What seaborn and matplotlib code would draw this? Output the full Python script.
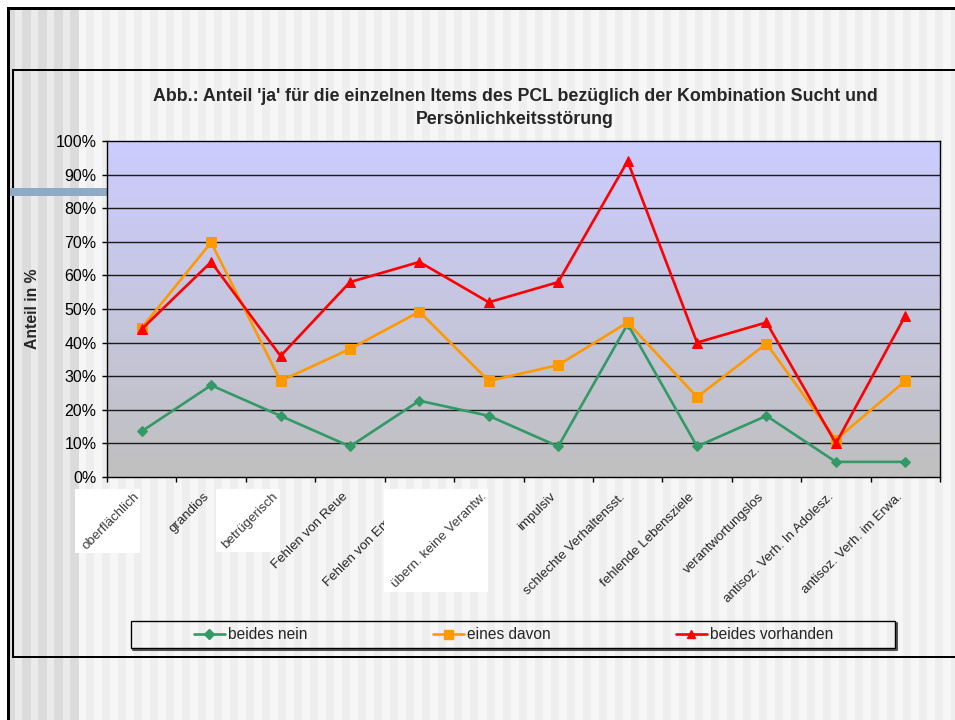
import numpy as np
import pandas as pd
import matplotlib
matplotlib.use("Agg")
import matplotlib.pyplot as plt
import matplotlib.patches as mpatches
from matplotlib.lines import Line2D
from matplotlib.transforms import offset_copy, ScaledTranslation
import seaborn as sns

# ---------------- data ----------------
categories = ["oberflächlich", "grandios", "betrügerisch", "Fehlen von Reue",
              "Fehlen von Empathie", "übern. keine Verantw.", "impulsiv",
              "schlechte Verhaltensst.", "fehlende Lebensziele", "verantwortungslos",
              "antisoz. Verh. In Adolesz.", "antisoz. Verh. im Erwa."]
beides_nein = [13.6, 27.3, 18.2, 9.1, 22.7, 18.2, 9.1, 45.5, 9.1, 18.2, 4.5, 4.5]
eines_davon = [44.4, 69.8, 28.6, 38.1, 49.2, 28.6, 33.3, 46.0, 23.8, 39.7, 11.1, 28.6]
beides_vorhanden = [44, 64, 36, 58, 64, 52, 58, 94, 40, 46, 10, 48]
series_names = ["beides nein", "eines davon", "beides vorhanden"]
yticks = [0, 10, 20, 30, 40, 50, 60, 70, 80, 90, 100]
ytick_labels = [f"{v}%" for v in yticks]
boxed_labels = ["oberflächlich", "betrügerisch", "übern. keine Verantw."]

title = "Abb.: Anteil 'ja' für die einzelnen Items des PCL bezüglich der Kombination Sucht und\nPersönlichkeitsstörung"
ylabel = "Anteil in %"

# ---------------- figure ----------------
sns.set_style("ticks")
plt.rcParams['font.family'] = ['Liberation Sans', 'DejaVu Sans']

W, H = 955, 720
fig = plt.figure(figsize=(W / 100, H / 100), dpi=100)

# slide background (striped) drawn as an image
bg = np.ones((H, W, 3))
col = np.empty((W, 3))
for x in range(W):
    if x < 79:
        dark = ((x - 22) % 16) < 9
        v = 0xDB if dark else 0xEA
    else:
        dark = ((x - 86) % 16) < 8
        v = 0xEE if dark else 0xF6
    col[x] = v / 255
bg[:, :, :] = col[None, :, :]
bg[:7, :, :] = 1.0
bg[:, :7, :] = 1.0
# outer frame
bg[7:10, 7:, :] = 0.0
bg[7:, 7:10, :] = 0.0
# chart-area frame
bg[69:71, 12:, :] = 0.0
bg[656:658, 12:, :] = 0.0
bg[69:658, 12:14, :] = 0.0
# decorative blue bar
bg[188:196, 10:107, :] = np.array([0x8F, 0xA9, 0xC7]) / 255

ax_bg = fig.add_axes([0, 0, 1, 1], zorder=-10)
ax_bg.imshow(bg, interpolation="nearest", aspect="auto", extent=(0, W, H, 0))
ax_bg.set_axis_off()

# ---------------- plot area ----------------
left, right, top, bottom = 107, 940, 141, 477
ax = fig.add_axes([left / W, 1 - bottom / H, (right - left) / W, (bottom - top) / H])
n = len(categories)
xpos = np.arange(n)

# gradient background
grad = np.linspace(0, 1, 256)[:, None]
c_top = np.array([204, 204, 255]) / 255
c_bot = np.array([192, 192, 192]) / 255
gimg = c_top[None, None, :] * (1 - grad[:, :, None]) + c_bot[None, None, :] * grad[:, :, None]
ax.imshow(gimg, extent=(-0.5, n - 0.5, 0, 100), aspect="auto", origin="upper", zorder=0)

for v in yticks[1:-1]:
    ax.axhline(v, color="#1a1a1a", lw=1.0, zorder=1)

df = pd.DataFrame({"x": np.tile(xpos, 3),
                   "y": beides_nein + eines_davon + beides_vorhanden,
                   "serie": np.repeat(series_names, n)})

styles = {
    "beides nein": dict(color="#339966", marker="D", markersize=5.2),
    "eines davon": dict(color="#FF9900", marker="s", markersize=7.2),
    "beides vorhanden": dict(color="#FF0000", marker="^", markersize=7.0),
}
for i, s in enumerate(series_names):
    sub = df[df["serie"] == s]
    st = styles[s]
    sns.lineplot(data=sub, x="x", y="y", ax=ax, color=st["color"], marker=st["marker"],
                 markersize=st["markersize"], markeredgecolor=st["color"],
                 markerfacecolor=st["color"], linewidth=1.9, zorder=3 + i, legend=False)

ax.set_xlim(-0.5, n - 0.5)
ax.set_ylim(0, 100)
ax.set_xlabel("")
ax.set_ylabel("")
ax.set_yticks(yticks)
ax.set_yticklabels(ytick_labels, fontsize=11.5)
ax.tick_params(axis="y", direction="out", length=3.6, width=1, pad=4, colors="black")
ax.set_xticks(xpos)
ax.set_xticklabels(categories, rotation=45, ha="right", va="center",
                   rotation_mode="anchor", fontsize=9.6)
ax.tick_params(axis="x", which="major", length=0, pad=13)
ax.set_xticks(np.arange(n + 1) - 0.5, minor=True)
ax.tick_params(axis="x", which="minor", direction="out", length=3.6, width=1, color="black")
for lab in ax.get_xticklabels():
    lab.set_transform(lab.get_transform() + ScaledTranslation(-3 / 72, 0, fig.dpi_scale_trans))
for sp in ax.spines.values():
    sp.set_visible(True)
    sp.set_color("black")
    sp.set_linewidth(1.0)


def px_rect(x0, y0, x1, y1, **kw):
    return mpatches.Rectangle((x0 / W, 1 - y1 / H), (x1 - x0) / W, (y1 - y0) / H,
                              transform=fig.transFigure, **kw)


def px_line(xs, ys, **kw):
    return Line2D([x / W for x in xs], [1 - y / H for y in ys], transform=fig.transFigure, **kw)


# white boxes behind some labels (as in the original)
for (x0, y0, x1, y1) in [(75, 489, 140, 553), (216, 489, 280, 552), (384, 489, 488, 592)]:
    fig.add_artist(px_rect(x0, y0, x1, y1, facecolor="white", edgecolor="none", zorder=1))

lab_tr = offset_copy(ax.get_xaxis_transform(), fig=fig, x=-3, y=-13, units="points")
for lab in boxed_labels:
    i = categories.index(lab)
    fig.text(i, 0, lab, transform=lab_tr, rotation=45, ha="right", va="center",
             rotation_mode="anchor", fontsize=9.6, color="#3c3c3c", zorder=5)

# title and axis label
fig.text(515 / W, 1 - 108 / H, title, ha="center", va="center", fontsize=12.8,
         fontweight="bold", linespacing=1.45)
fig.text(32 / W, 1 - 309 / H, ylabel, rotation=90, ha="center", va="center",
         fontsize=11.3, fontweight="bold")

# legend box with shadow
fig.add_artist(px_line([133, 897, 897], [649.5, 649.5, 623], color="#555555", lw=1.5, zorder=1))
fig.add_artist(px_rect(131, 621, 895, 648, facecolor="none", edgecolor="black", lw=1.0, zorder=1.1))
handles = [Line2D([0], [0], color=styles[s]["color"], marker=styles[s]["marker"],
                  markersize=styles[s]["markersize"] * 0.9, lw=1.9) for s in series_names]
leg = fig.legend(handles, series_names, loc="center", bbox_to_anchor=(513.5 / W, 1 - 634.5 / H),
                 ncol=3, frameon=False, fontsize=11.2, handlelength=2.0, handletextpad=0.2,
                 columnspacing=8.05)
leg.set_zorder(6)

fig.savefig("out.png", dpi=100)
